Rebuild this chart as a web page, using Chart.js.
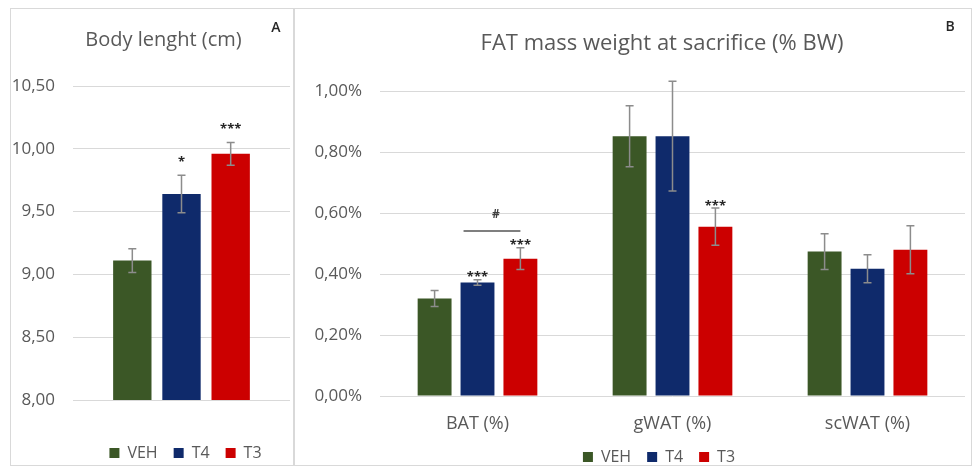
<!DOCTYPE html>
<html><head><meta charset="utf-8">
<script src="https://cdn.jsdelivr.net/npm/chart.js@4.4.1/dist/chart.umd.min.js"></script>
<style>
body{margin:0;background:#fff;width:972px;height:475px;overflow:hidden;position:relative;font-family:'Open Sans',sans-serif}
.frame{position:absolute;border:1px solid #d9d9d9;box-sizing:border-box}
canvas{position:absolute}
</style></head><body>
<div class="frame" style="left:10px;top:8px;width:284px;height:458px"></div>
<div class="frame" style="left:294px;top:8px;width:678px;height:458px"></div>
<canvas id="cA" style="left:11px;top:9px" width="282" height="456"></canvas>
<canvas id="cB" style="left:295px;top:9px" width="676" height="456"></canvas>
<script>
// ---- Data ----
const seriesNames = ['VEH', 'T4', 'T3'];
const seriesColors = ['#3b5726', '#0f2a6b', '#cc0000'];

// Panel A: Body length (cm)
const categoriesA = [''];
const vehA = [9.11];
const t4A = [9.64];
const t3A = [9.96];
const vehAErr = [0.095];
const t4AErr = [0.15];
const t3AErr = [0.09];
const vehAStars = [''];
const t4AStars = ['*'];
const t3AStars = ['***'];
const ticksA = [8.0, 8.5, 9.0, 9.5, 10.0, 10.5];

// Panel B: FAT mass weight at sacrifice (% BW)
const categoriesB = ['BAT (%)', 'gWAT (%)', 'scWAT (%)'];
const vehB = [0.320, 0.853, 0.474];
const t4B = [0.373, 0.853, 0.418];
const t3B = [0.451, 0.556, 0.480];
const vehBErr = [0.026, 0.100, 0.059];
const t4BErr = [0.009, 0.180, 0.046];
const t3BErr = [0.036, 0.061, 0.079];
const vehBStars = ['', '', ''];
const t4BStars = ['***', '', ''];
const t3BStars = ['***', '***', ''];
const ticksB = [0, 0.2, 0.4, 0.6, 0.8, 1.0];
// "#" comparison T4 vs T3 within BAT
const hashCompare = {category: 0, from: 1, to: 2, label: '#', level: 0.542};

const TXT = '#595959';
const GRID = '#d9d9d9';
const FONT = "'Open Sans', sans-serif";
const LEG_PAD = 16, LEG_FONT = 16;

const annot = {
  id: 'annot',
  afterLayout(chart, args, opts) {
    const lg = chart.legend;
    if (lg && opts.legend) {
      const h = LEG_PAD * 2 + LEG_FONT;
      lg.left += opts.legend.dx; lg.right += opts.legend.dx;
      lg.top = opts.legend.cy - LEG_PAD - LEG_FONT / 2;
      lg.bottom = lg.top + h;
      lg.height = h;
    }
    const tb = chart.titleBlock;
    if (tb && opts.titleDx) { tb.left += opts.titleDx; tb.right += opts.titleDx; }
  },
  afterDatasetsDraw(chart, args, opts) {
    const ctx = chart.ctx, y = chart.scales.y;
    chart.data.datasets.forEach((ds, di) => {
      const meta = chart.getDatasetMeta(di);
      meta.data.forEach((bar, i) => {
        const v = ds.data[i], e = opts.errors[di][i];
        const yt = y.getPixelForValue(v + e), yb = y.getPixelForValue(v - e);
        ctx.save();
        ctx.strokeStyle = '#8c8c8c'; ctx.lineWidth = 1.5;
        ctx.beginPath();
        ctx.moveTo(bar.x, yt); ctx.lineTo(bar.x, yb);
        ctx.moveTo(bar.x - 4, yt); ctx.lineTo(bar.x + 4, yt);
        ctx.moveTo(bar.x - 4, yb); ctx.lineTo(bar.x + 4, yb);
        ctx.stroke();
        const s = opts.stars[di][i];
        if (s) {
          ctx.fillStyle = '#262626';
          ctx.font = 'bold 13px ' + FONT;
          ctx.textAlign = 'center'; ctx.textBaseline = 'middle';
          ctx.fillText(s, bar.x, yt - opts.starOffset);
        }
        ctx.restore();
      });
    });
    const b = opts.bracket;
    if (b) {
      const b1 = chart.getDatasetMeta(b.from).data[b.category];
      const b2 = chart.getDatasetMeta(b.to).data[b.category];
      const yy = y.getPixelForValue(b.level);
      ctx.save();
      ctx.strokeStyle = '#7f7f7f'; ctx.lineWidth = 2;
      ctx.beginPath();
      ctx.moveTo(b1.x - b1.width / 2 + 3, yy); ctx.lineTo(b2.x, yy);
      ctx.stroke();
      ctx.fillStyle = '#404040';
      ctx.font = 'bold 12px ' + FONT;
      ctx.textAlign = 'center'; ctx.textBaseline = 'middle';
      ctx.fillText(b.label, (b1.x + b2.x) / 2 - 3, yy - 16);
      ctx.restore();
    }
  },
  afterDraw(chart, args, opts) {
    if (!opts.letter) return;
    const c = chart.ctx;
    c.save(); c.fillStyle = '#262626'; c.font = '600 14px ' + FONT;
    c.textAlign = 'center'; c.textBaseline = 'middle';
    c.fillText(opts.letter.text, opts.letter.x, opts.letter.y);
    c.restore();
  }
};

function makeDatasets(vals) {
  return seriesNames.map((n, i) => ({
    label: n, data: vals[i], backgroundColor: seriesColors[i], borderWidth: 0
  }));
}

function legendOpts() {
  return {
    position: 'bottom', maxHeight: 1,
    labels: {color: TXT, font: {family: FONT, size: LEG_FONT}, boxWidth: 10, boxHeight: 10, padding: LEG_PAD}
  };
}

new Chart(document.getElementById('cA'), {
  type: 'bar',
  data: {labels: categoriesA, datasets: makeDatasets([vehA, t4A, t3A])},
  options: {
    responsive: false, animation: false,
    layout: {padding: {left: 0, right: 3, top: 0, bottom: 64}},
    datasets: {bar: {categoryPercentage: 0.68, barPercentage: 0.78}},
    plugins: {
      title: {display: true, text: 'Body lenght (cm)', color: TXT, font: {family: FONT, size: 20, weight: 'normal'}, padding: {top: 19, bottom: 34}},
      legend: legendOpts(),
      tooltip: {enabled: false},
      annot: {errors: [vehAErr, t4AErr, t3AErr], stars: [vehAStars, t4AStars, t3AStars], starOffset: 13,
              legend: {dx: 35, cy: 444}, titleDx: 13, letter: {text: 'A', x: 265, y: 19}}
    },
    scales: {
      x: {display: false},
      y: {
        min: ticksA[0], max: ticksA[ticksA.length - 1],
        afterFit: s => { s.width = 62; },
        afterBuildTicks: s => { s.ticks = ticksA.map(v => ({value: v})); },
        ticks: {color: TXT, font: {family: FONT, size: 17}, padding: 18, callback: v => v.toFixed(2).replace('.', ',')},
        grid: {color: GRID, drawTicks: false},
        border: {display: false}
      }
    }
  },
  plugins: [annot]
});

new Chart(document.getElementById('cB'), {
  type: 'bar',
  data: {labels: categoriesB, datasets: makeDatasets([vehB, t4B, t3B])},
  options: {
    responsive: false, animation: false,
    layout: {padding: {left: 0, right: 6, top: 0, bottom: 18}},
    datasets: {bar: {categoryPercentage: 0.66, barPercentage: 0.79}},
    plugins: {
      title: {display: true, text: 'FAT mass weight at sacrifice (% BW)', color: TXT, font: {family: FONT, size: 22, weight: 'normal'}, padding: {top: 22, bottom: 34}},
      legend: legendOpts(),
      tooltip: {enabled: false},
      annot: {errors: [vehBErr, t4BErr, t3BErr], stars: [vehBStars, t4BStars, t3BStars], starOffset: 2, bracket: hashCompare,
              legend: {dx: 29, cy: 448}, titleDx: 32, letter: {text: 'B', x: 655, y: 18}}
    },
    scales: {
      x: {
        afterFit: s => { s.height = 50; },
        ticks: {color: TXT, font: {family: FONT, size: 18}, padding: 17},
        grid: {display: false, drawTicks: false},
        border: {display: false}
      },
      y: {
        min: ticksB[0], max: ticksB[ticksB.length - 1],
        afterFit: s => { s.width = 85; },
        afterBuildTicks: s => { s.ticks = ticksB.map(v => ({value: v})); },
        ticks: {color: TXT, font: {family: FONT, size: 17}, padding: 18, callback: v => v.toFixed(2).replace('.', ',') + '%'},
        grid: {color: GRID, drawTicks: false},
        border: {display: false}
      }
    }
  },
  plugins: [annot]
});
</script>
</body></html>
